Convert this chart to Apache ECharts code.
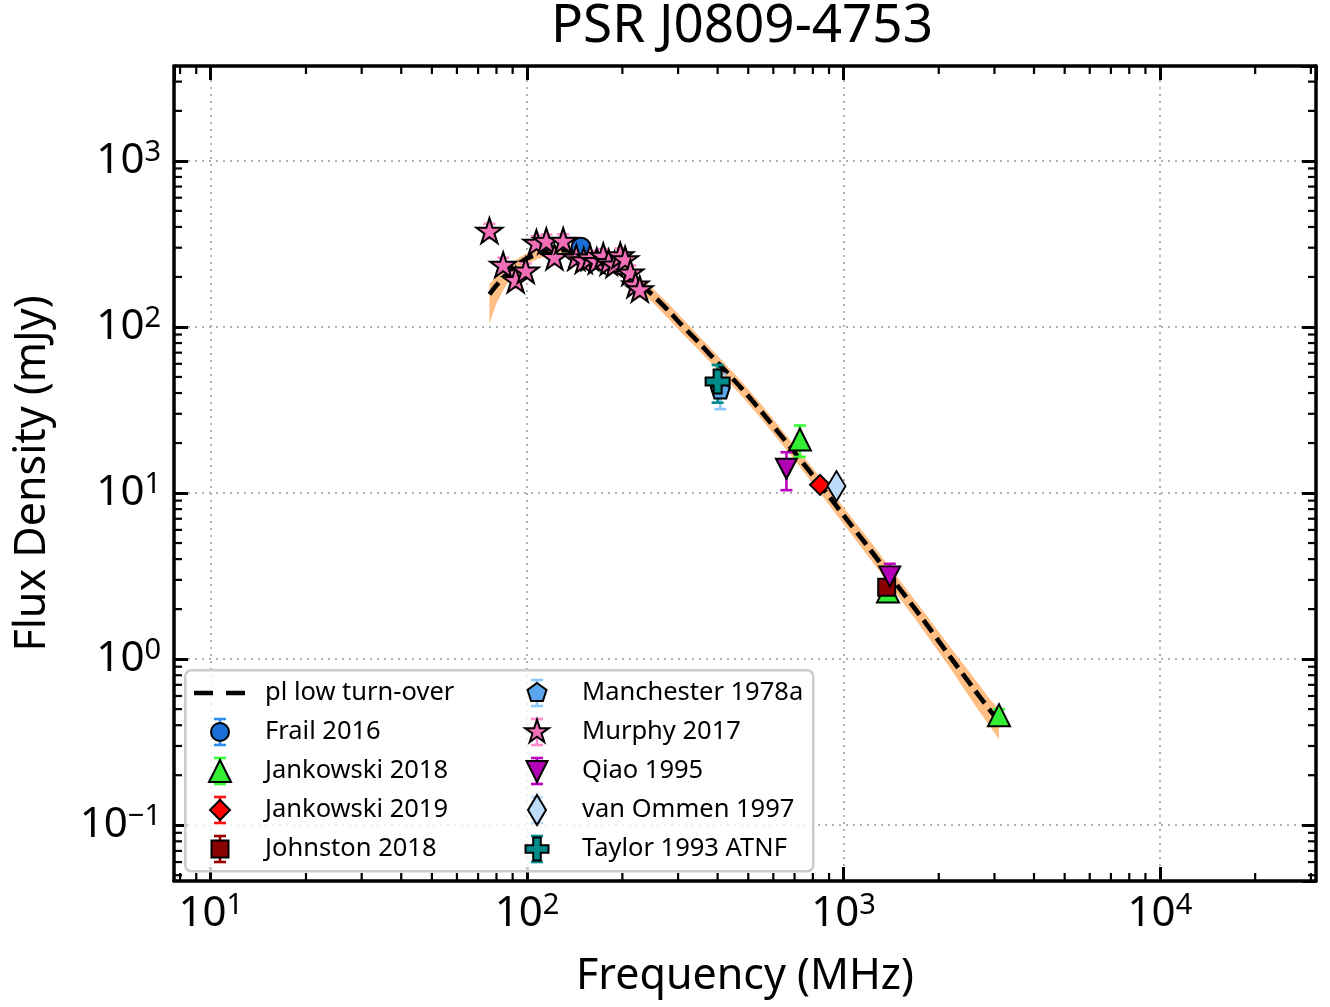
<!DOCTYPE html>
<html><head><meta charset="utf-8">
<script src="https://cdn.jsdelivr.net/npm/echarts@6/dist/echarts.min.js"></script>
<style>html,body{margin:0;padding:0;background:#fff}#c{width:1330px;height:1007px}</style>
</head><body><div id="c"></div>
<script>
const FONT = '"Noto Sans", "Open Sans", "DejaVu Sans", sans-serif';

// ---- fitted model ----
const fitFreq = [76,80,85,90,95,100,110,120,130,140,150,165,180,200,225,250,280,306,350,400,473,550,695,850,1000,1216,1400,1750,2175,2600,2909,3100];
const fitFlux = [157,178,203,226,244,259,279,288,290,286,279,264,245,217,184,155,125,104,80,61,43.3,31,17.9,11.0,7.35,4.55,3.18,1.82,1.03,0.65,0.49,0.42];
const bandLow  = [105,139,173,203,225,241,260,270,272,268,261,246,226,198,167,140,112,93,72,55,39.0,27.9,16.1,9.8,6.5,4.0,2.8,1.58,0.88,0.53,0.39,0.33];
const bandHigh = [182,200,224,246,264,277,297,306,308,304,297,282,262,234,201,170,138,115,88,67,47.6,34.1,19.7,12.2,8.2,5.1,3.56,2.05,1.18,0.76,0.57,0.50];

// ---- data sets: [freq MHz, flux mJy, error mJy] ----
const frail2016 = [[148, 302, 30]];
const jankowski2018 = [[728, 21, 4.5], [1382, 2.55, 0.2], [3100, 0.46, 0.04]];
const jankowski2019 = [[843, 11.2, 0.6]];
const johnston2018 = [[1369, 2.71, 0.15]];
const manchester1978a = [[408, 42, 10]];
const murphy2017 = [[76,380,38],[84,237,24],[92,192,20],[99,219,22],[107,322,30],[115,330,30],[122,264,26],[130,331,30],[143,262,25],[151,252,25],[158,262,25],[166,250,25],[174,268,26],[181,246,24],[189,238,24],[197,270,27],[204,256,25],[212,213,21],[220,180,18],[227,169,17]];
const qiao1995 = [[660, 14, 3.6], [1400, 3.15, 0.6]];
const vanOmmen1997 = [[950, 11.0, 0.3]];
const taylor1993 = [[400, 47, 12]];

// ---- axis ticks ----
const xMajor = [10, 100, 1000, 10000];
const yMajor = [0.1, 1, 10, 100, 1000];
const xMinor = [8,9,20,30,40,50,60,70,80,90,200,300,400,500,600,700,800,900,2000,3000,4000,5000,6000,7000,8000,9000,20000,30000];
const yMinor = [0.05,0.06,0.07,0.08,0.09,0.2,0.3,0.4,0.5,0.6,0.7,0.8,0.9,2,3,4,5,6,7,8,9,20,30,40,50,60,70,80,90,200,300,400,500,600,700,800,900,2000,3000];

const X_MIN = 7.654, X_MAX = 31140, Y_MIN = 0.04614, Y_MAX = 3725;

function powLabel(v) {
  const lg = Math.log10(v), e = Math.round(lg);
  if (Math.abs(lg - e) > 1e-6) return '';
  const s = e < 0 ? '\u2212' + (-e) : String(e);
  return '{b|10}{s|' + s + '}';
}
const richLbl = {
  b: {fontSize: 42, lineHeight: 46, fontFamily: FONT, color: '#000'},
  s: {fontSize: 29, lineHeight: 23, verticalAlign: 'top', fontFamily: FONT, color: '#000'}
};

function icon(marker, err) {
  let s = "<svg xmlns='http://www.w3.org/2000/svg' width='66' height='34' viewBox='0 0 66 34'>";
  if (err) s += "<g stroke='" + err + "' stroke-width='2.6'><line x1='26' y1='4' x2='26' y2='30'/><line x1='20' y1='4' x2='32' y2='4'/><line x1='20' y1='30' x2='32' y2='30'/></g>";
  s += marker + '</svg>';
  return 'image://data:image/svg+xml;charset=utf-8,' + encodeURIComponent(s);
}
const ST = " stroke='#000' stroke-width='2' stroke-linejoin='miter'";
const C = {
  frail: '#1a6ed8', frailE: '#2d8ef2',
  jk18: '#33ee33', jk18E: '#33ff33',
  jk19: '#ff0000', jk19E: '#ff1010',
  john: '#8b0000', johnE: '#990000',
  man: '#5aa6ee', manE: '#8ec8fb',
  mur: '#f26eb6', murE: '#ff8ccc',
  qiao: '#b400b4', qiaoE: '#c000c0',
  van: '#bcdcfa', vanE: '#bcdcfa',
  tay: '#008b8b', tayE: '#008b8b'
};
const P_STAR = 'path://M50 0 L61.23 34.55 L97.55 34.55 L68.17 55.9 L79.39 90.45 L50 69.1 L20.61 90.45 L31.83 55.9 L2.45 34.55 L38.77 34.55 Z';
const P_PENT = 'path://M50 0 L97.55 34.55 L79.39 90.45 L20.61 90.45 L2.45 34.55 Z';
const P_PLUS = 'path://M33.3 0 H66.7 V33.3 H100 V66.7 H66.7 V100 H33.3 V66.7 H0 V33.3 H33.3 Z';
const P_DOWN = 'path://M0 0 L100 0 L50 100 Z';

const legendLeft = [
  {name: 'pl low turn-over', icon: icon("<line x1='0' y1='17' x2='52' y2='17' stroke='#000' stroke-width='4.7' stroke-dasharray='19,13'/>")},
  {name: 'Frail 2016', icon: icon("<circle cx='26' cy='17' r='9'" + ST + " fill='" + C.frail + "'/>", C.frailE)},
  {name: 'Jankowski 2018', icon: icon("<polygon points='26,6 37,28 15,28'" + ST + " fill='" + C.jk18 + "'/>", C.jk18E)},
  {name: 'Jankowski 2019', icon: icon("<polygon points='26,7 36,17 26,27 16,17'" + ST + " fill='" + C.jk19 + "'/>", C.jk19E)},
  {name: 'Johnston 2018', icon: icon("<rect x='17.5' y='8.5' width='17' height='17'" + ST + " fill='" + C.john + "'/>", C.johnE)}
];
const legendRight = [
  {name: 'Manchester 1978a', icon: icon("<polygon points='26,7 35.5,13.9 31.9,25.1 20.1,25.1 16.5,13.9'" + ST + " fill='" + C.man + "'/>", C.manE)},
  {name: 'Murphy 2017', icon: icon("<polygon points='26,4.5 28.81,13.14 37.89,13.14 30.54,18.48 33.35,27.11 26,21.78 18.65,27.11 21.46,18.48 14.11,13.14 23.19,13.14'" + ST + " fill='" + C.mur + "'/>", C.murE)},
  {name: 'Qiao 1995', icon: icon("<polygon points='15.5,7 36.5,7 26,28'" + ST + " fill='" + C.qiao + "'/>", C.qiaoE)},
  {name: 'van Ommen 1997', icon: icon("<polygon points='26,2 35,17 26,32 17,17'" + ST + " fill='" + C.van + "'/>", C.vanE)},
  {name: 'Taylor 1993 ATNF', icon: icon("<path d='M22.2 5.5 H29.8 V13.2 H37.5 V20.8 H29.8 V28.5 H22.2 V20.8 H14.5 V13.2 H22.2 Z'" + ST + " fill='" + C.tay + "'/>", C.tayE)}
];

function errSeries(name, data, color) {
  return {
    type: 'custom', name: name, coordinateSystem: 'cartesian2d', data: data,
    encode: {x: 0, y: 1}, silent: true, clip: false, z: 3,
    renderItem: function (params, api) {
      const f = api.value(0), v = api.value(1), e = api.value(2);
      const p1 = api.coord([f, v - e]), p2 = api.coord([f, v + e]);
      const c = 6, st = {stroke: color, lineWidth: 2.6};
      return {type: 'group', children: [
        {type: 'line', shape: {x1: p1[0], y1: p1[1], x2: p2[0], y2: p2[1]}, style: st},
        {type: 'line', shape: {x1: p1[0] - c, y1: p1[1], x2: p1[0] + c, y2: p1[1]}, style: st},
        {type: 'line', shape: {x1: p2[0] - c, y1: p2[1], x2: p2[0] + c, y2: p2[1]}, style: st}
      ]};
    }
  };
}
function scat(name, data, symbol, size, color) {
  return {
    type: 'scatter', name: name, data: data.map(d => [d[0], d[1]]),
    symbol: symbol, symbolSize: size, z: 3,
    itemStyle: {color: color, borderColor: '#000', borderWidth: 2, opacity: 1},
    emphasis: {disabled: true}, silent: true
  };
}

const axisCommon = {
  type: 'log', logBase: 10,
  axisLine: {show: true, onZero: false, lineStyle: {color: '#000', width: 3.5}},
  axisTick: {show: true, inside: true, length: 14, lineStyle: {color: '#000', width: 3}},
  minorTick: {show: false}, minorSplitLine: {show: false}
};

const chart = echarts.init(document.getElementById('c'), null, {renderer: 'canvas'});
chart.setOption({
  animation: false,
  backgroundColor: '#fff',
  title: {text: 'PSR J0809-4753', left: 737, top: -5, textAlign: 'center',
    textStyle: {fontSize: 53, fontWeight: 'normal', fontFamily: FONT, color: '#000'}},
  grid: {left: 172, top: 66, width: 1144, height: 818},
  xAxis: [
    Object.assign({}, axisCommon, {
      position: 'bottom', min: X_MIN, max: X_MAX,
      axisLabel: {formatter: powLabel, margin: 10, rich: richLbl, showMinLabel: false, showMaxLabel: false},
      splitLine: {show: true, lineStyle: {color: '#b0b0b0', width: 2, type: [2, 5]}},
      name: 'Frequency (MHz)', nameLocation: 'middle', nameGap: 71,
      nameTextStyle: {fontSize: 43, lineHeight: 50, fontFamily: FONT, color: '#000'}
    }),
    Object.assign({}, axisCommon, {
      position: 'top', min: X_MIN, max: X_MAX,
      axisLabel: {show: false}, splitLine: {show: false}
    })
  ],
  yAxis: [
    Object.assign({}, axisCommon, {
      position: 'left', min: Y_MIN, max: Y_MAX,
      axisLabel: {formatter: powLabel, margin: 13, rich: richLbl, showMinLabel: false, showMaxLabel: false},
      splitLine: {show: true, lineStyle: {color: '#b0b0b0', width: 2, type: [2, 5]}},
      name: 'Flux Density (mJy)', nameLocation: 'middle', nameGap: 116,
      nameTextStyle: {fontSize: 43, lineHeight: 50, fontFamily: FONT, color: '#000'}
    }),
    Object.assign({}, axisCommon, {
      position: 'right', min: Y_MIN, max: Y_MAX,
      axisLabel: {show: false}, splitLine: {show: false}
    })
  ],
  legend: [
    {orient: 'vertical', left: 194, top: 676, padding: 0, itemGap: 5, itemWidth: 66, itemHeight: 34,
     selectedMode: false, textStyle: {fontSize: 25.5, fontFamily: FONT, color: '#000'}, data: legendLeft, z: 6},
    {orient: 'vertical', left: 511, top: 676, padding: 0, itemGap: 5, itemWidth: 66, itemHeight: 34,
     selectedMode: false, textStyle: {fontSize: 25.5, fontFamily: FONT, color: '#000'}, data: legendRight, z: 6}
  ],
  graphic: [{type: 'rect', left: 184, top: 669, z: 5, silent: true,
    shape: {width: 628, height: 201, r: 6},
    style: {fill: 'rgba(255,255,255,0.8)', stroke: '#cccccc', lineWidth: 2.5}}],
  series: [
    {type: 'custom', name: 'band', coordinateSystem: 'cartesian2d', data: [[100, 100]], silent: true, z: 1, clip: false,
     renderItem: function (params, api) {
       const pts = [];
       for (let i = 0; i < fitFreq.length; i++) pts.push(api.coord([fitFreq[i], bandHigh[i]]));
       for (let i = fitFreq.length - 1; i >= 0; i--) pts.push(api.coord([fitFreq[i], bandLow[i]]));
       return {type: 'polygon', shape: {points: pts}, style: {fill: '#ffbe84', stroke: null}};
     }},
    {type: 'line', name: 'pl low turn-over', data: fitFreq.map((f, i) => [f, fitFlux[i]]),
     showSymbol: false, smooth: 0.2, z: 2, silent: true,
     lineStyle: {color: '#000', width: 4.7, type: [15, 7], cap: 'butt'}, itemStyle: {color: '#000'}},
    errSeries('Frail 2016', frail2016, C.frailE), scat('Frail 2016', frail2016, 'circle', 19, C.frail),
    errSeries('Jankowski 2018', jankowski2018, C.jk18E), scat('Jankowski 2018', jankowski2018, 'triangle', 22, C.jk18),
    errSeries('Jankowski 2019', jankowski2019, C.jk19E), scat('Jankowski 2019', jankowski2019, 'diamond', [20, 20], C.jk19),
    errSeries('Johnston 2018', johnston2018, C.johnE), scat('Johnston 2018', johnston2018, 'rect', 17, C.john),
    errSeries('Manchester 1978a', manchester1978a, C.manE), scat('Manchester 1978a', manchester1978a, P_PENT, [19, 18], C.man),
    errSeries('Murphy 2017', murphy2017, C.murE), scat('Murphy 2017', murphy2017, P_STAR, [26, 25], C.mur),
    errSeries('Qiao 1995', qiao1995, C.qiaoE), scat('Qiao 1995', qiao1995, P_DOWN, [21, 20], C.qiao),
    errSeries('van Ommen 1997', vanOmmen1997, C.vanE), scat('van Ommen 1997', vanOmmen1997, 'diamond', [18, 30], C.van),
    errSeries('Taylor 1993 ATNF', taylor1993, C.tayE), scat('Taylor 1993 ATNF', taylor1993, P_PLUS, [24, 24], C.tay),
    {type: 'custom', name: 'minorTicks', coordinateSystem: 'cartesian2d', data: [[100, 100]], silent: true, z: 4, clip: false,
     renderItem: function (params, api) {
       const cs = params.coordSys, L = 8, ch = [];
       const st = {stroke: '#000', lineWidth: 2.2};
       xMinor.forEach(v => {
         const px = api.coord([v, 1])[0];
         ch.push({type: 'line', shape: {x1: px, y1: cs.y + cs.height, x2: px, y2: cs.y + cs.height - L}, style: st});
         ch.push({type: 'line', shape: {x1: px, y1: cs.y, x2: px, y2: cs.y + L}, style: st});
       });
       yMinor.forEach(v => {
         const py = api.coord([100, v])[1];
         ch.push({type: 'line', shape: {x1: cs.x, y1: py, x2: cs.x + L, y2: py}, style: st});
         ch.push({type: 'line', shape: {x1: cs.x + cs.width, y1: py, x2: cs.x + cs.width - L, y2: py}, style: st});
       });
       return {type: 'group', children: ch};
     }}
  ]
});
</script>
</body></html>
